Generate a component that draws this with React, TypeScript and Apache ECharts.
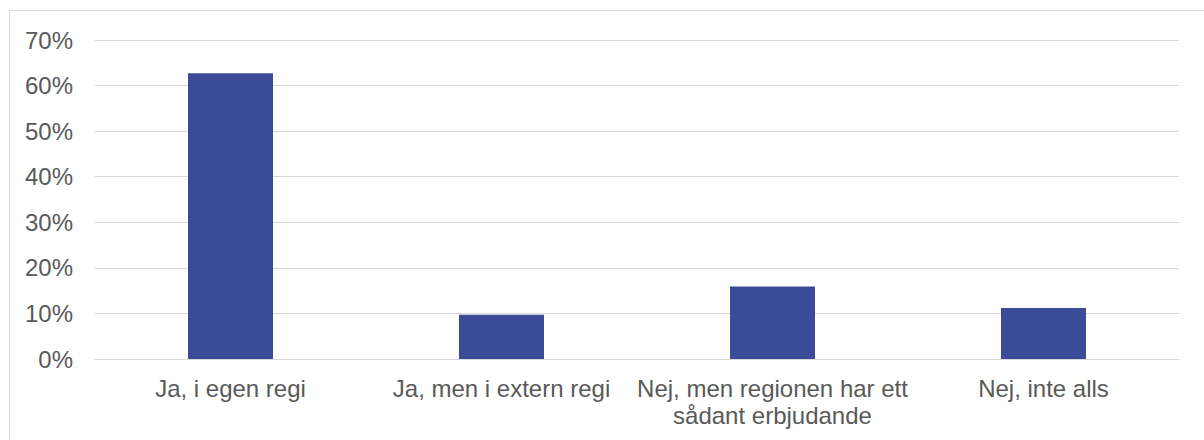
import React, { useEffect, useRef } from "react";
import * as echarts from "echarts";

const categories = [
  "Ja, i egen regi",
  "Ja, men i extern regi",
  "Nej, men regionen har ett\nsådant erbjudande",
  "Nej, inte alls",
];
const values = [0.627, 0.097, 0.159, 0.112];
const yMin = 0;
const yMax = 0.7;
const yStep = 0.1;

const FONT = "'Liberation Sans', Arial, sans-serif";
const TEXT = "#595959";
const GRID = "#d9d9d9";
const BAR = "#3c4b98";

export default function App() {
  const ref = useRef<HTMLDivElement>(null);
  useEffect(() => {
    if (!ref.current) return;
    const chart = echarts.init(ref.current, undefined, { renderer: "svg" });
    chart.setOption({
      animation: false,
      backgroundColor: "#ffffff",
      textStyle: { fontFamily: FONT },
      grid: { left: 95, right: 25, top: 40, bottom: 81, containLabel: false },
      graphic: [
        {
          type: "rect",
          shape: { x: 9.5, y: 10.5, width: 1200, height: 440 },
          style: { fill: "none", stroke: GRID, lineWidth: 1 },
          silent: true,
        },
      ],
      xAxis: {
        type: "category",
        data: categories,
        axisLine: { show: true, lineStyle: { color: GRID, width: 1 } },
        axisTick: { show: false },
        axisLabel: {
          interval: 0,
          color: TEXT,
          fontSize: 24,
          fontFamily: FONT,
          margin: 16,
          lineHeight: 27,
        },
      },
      yAxis: {
        type: "value",
        min: yMin,
        max: yMax,
        interval: yStep,
        axisLine: { show: false },
        axisTick: { show: false },
        splitLine: { lineStyle: { color: GRID, width: 1 } },
        axisLabel: {
          color: TEXT,
          fontSize: 24,
          fontFamily: FONT,
          margin: 22,
          formatter: (v: number) => Math.round(v * 100) + "%",
        },
      },
      series: [
        {
          type: "bar",
          data: values,
          barWidth: 85,
          itemStyle: { color: BAR },
        },
      ],
    });
    return () => chart.dispose();
  }, []);
  return (
    <div
      ref={ref}
      style={{ position: "absolute", left: 0, top: 0, width: 1204, height: 440, background: "#fff" }}
    />
  );
}
